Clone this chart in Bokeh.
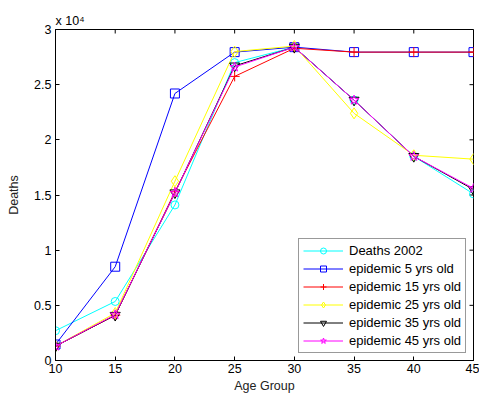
from bokeh.plotting import figure
from bokeh.models import FixedTicker, Legend
from bokeh.embed import file_html
from bokeh.resources import INLINE

ages = [10, 15, 20, 25, 30, 35, 40, 45]
deaths_2002 = [2700, 5350, 14100, 27000, 28400, 23600, 18500, 15100]
epi_5 = [1450, 8500, 24200, 27950, 28400, 27950, 27950, 27950]
epi_15 = [1300, 4100, 15300, 25750, 28300, 27950, 27950, 27950]
epi_25 = [1300, 4300, 16250, 28000, 28500, 22400, 18600, 18250]
epi_35 = [1300, 4100, 15200, 26700, 28400, 23600, 18500, 15500]
epi_45 = [1300, 4150, 15200, 26600, 28400, 23600, 18500, 15600]

x_ticks = [10, 15, 20, 25, 30, 35, 40, 45]
y_ticks = [0, 5000, 10000, 15000, 20000, 25000, 30000]
y_tick_labels = ["0", "0.5", "1", "1.5", "2", "2.5", "3"]
x_min, x_max = 10, 45
y_min, y_max = 0, 30000

FONT = "Liberation Sans"
FRAME_W, FRAME_H = 418, 331
TICK_PX = 4

p = figure(width=479, height=400, output_backend="svg", toolbar_location=None,
           x_range=(x_min, x_max), y_range=(y_min, y_max),
           frame_width=FRAME_W, frame_height=FRAME_H,
           min_border_left=55, min_border_right=6, min_border_top=29, min_border_bottom=40)
p.background_fill_color = "white"
p.border_fill_color = "white"
p.outline_line_color = "black"
p.xgrid.visible = False
p.ygrid.visible = False

p.title.text = "x 10\u2074"
p.title.text_font = FONT
p.title.text_font_size = "12.5px"
p.title.text_font_style = "normal"
p.title.text_color = "black"
p.title.align = "left"
p.title.offset = 0
p.title.standoff = 4

for ax, ticks in ((p.xaxis[0], x_ticks), (p.yaxis[0], y_ticks)):
    ax.ticker = FixedTicker(ticks=ticks)
    ax.major_tick_in = TICK_PX
    ax.major_tick_out = 0
    ax.minor_tick_line_color = None
    ax.axis_line_color = "black"
    ax.major_tick_line_color = "black"
    ax.major_label_text_font = FONT
    ax.major_label_text_font_size = "12.5px"
    ax.major_label_text_color = "black"
    ax.axis_label_text_font = FONT
    ax.axis_label_text_font_size = "12.5px"
    ax.axis_label_text_font_style = "normal"
    ax.axis_label_text_color = "#222222"

p.xaxis[0].axis_label = "Age Group"
p.yaxis[0].axis_label = "Deaths"
p.yaxis[0].major_label_overrides = {t: l for t, l in zip(y_ticks, y_tick_labels)}
p.xaxis[0].major_label_standoff = 3
p.yaxis[0].major_label_standoff = 4
p.xaxis[0].axis_label_standoff = 3
p.yaxis[0].axis_label_standoff = 10

# inward ticks on the top and right edges of the box
dy = TICK_PX * (y_max - y_min) / FRAME_H
dx = TICK_PX * (x_max - x_min) / FRAME_W
p.segment(x0=x_ticks, y0=[y_max] * len(x_ticks), x1=x_ticks, y1=[y_max - dy] * len(x_ticks),
          line_color="black", line_width=1)
p.segment(x0=[x_max] * len(y_ticks), y0=y_ticks, x1=[x_max - dx] * len(y_ticks), y1=y_ticks,
          line_color="black", line_width=1)

series = [
    ("Deaths 2002", deaths_2002, "#00FFFF", "circle", 8),
    ("epidemic 5 yrs old", epi_5, "#0000FF", "square", 9),
    ("epidemic 15 yrs old", epi_15, "#FF0000", "cross", 10),
    ("epidemic 25 yrs old", epi_25, "#FFFF00", "diamond", 11),
    ("epidemic 35 yrs old", epi_35, "#000000", "inverted_triangle", 10),
    ("epidemic 45 yrs old", epi_45, "#FF00FF", "star", 10),
]

items = []
for name, vals, color, marker, size in series:
    l = p.line(ages, vals, line_color=color, line_width=1)
    s = p.scatter(ages, vals, marker=marker, size=size, line_color=color,
                  fill_color=None, line_width=1)
    items.append((name, [l, s]))

legend = Legend(items=items, location=(243, 7))
legend.label_text_font = FONT
legend.label_text_font_size = "13px"
legend.label_text_color = "black"
legend.border_line_color = "#333333"
legend.border_line_width = 1
legend.background_fill_color = "white"
legend.glyph_width = 40
legend.glyph_height = 15
legend.label_height = 15
legend.spacing = 3
legend.padding = 4
legend.margin = 0
legend.label_standoff = 6
p.add_layout(legend, "center")

open("out.html", "w").write(file_html(p, INLINE))
